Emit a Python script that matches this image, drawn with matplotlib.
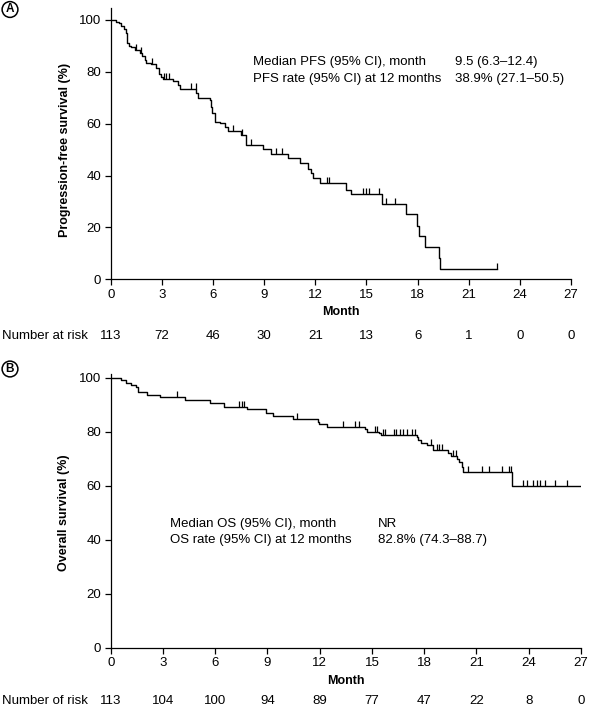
import matplotlib
matplotlib.use('Agg')
import matplotlib.pyplot as plt
import matplotlib.transforms as mtransforms
import numpy as np

plt.rcParams['font.family'] = ['Liberation Sans', 'DejaVu Sans']

# Panel A: progression-free survival (months, %)
pfs_time = [0, 0.33, 0.49, 0.63, 0.76, 0.88, 0.95, 1.05, 1.21, 1.41, 1.70, 1.86, 1.99, 2.09,
            2.39, 2.68, 2.83, 2.97, 3.07, 3.65, 3.95, 4.05, 5.03, 5.12, 5.81, 5.87, 5.96,
            6.10, 6.39, 6.69, 6.88, 7.67, 7.96, 8.93, 9.43, 10.40, 11.09, 11.57, 11.77,
            11.87, 12.30, 13.78, 14.08, 15.94, 17.34, 17.96, 18.06, 18.42, 19.26, 19.34]
pfs_surv = [100, 99.3, 98.7, 97.7, 96.4, 94.8, 91.0, 90.0, 89.5, 88.4, 87.4, 86.1, 84.6, 83.5,
            83.0, 81.4, 79.2, 77.9, 77.1, 76.6, 74.9, 73.2, 71.9, 70.0, 69.1, 66.5, 64.0,
            60.7, 60.1, 58.8, 57.3, 55.6, 51.9, 50.2, 48.5, 46.6, 44.7, 42.7, 40.8,
            38.9, 37.0, 34.6, 32.7, 29.2, 25.1, 20.5, 16.7, 12.5, 8.4, 4.1]
pfs_end = 22.68
pfs_censor = [1.5, 1.8, 2.4, 3.1, 3.25, 3.4, 4.7, 5.0, 7.2, 7.7, 8.25, 9.72, 10.07,
              12.71, 12.8, 14.8, 14.96, 15.15, 15.74, 16.13, 16.66, 22.68]
pfs_risk = [113, 72, 46, 30, 21, 13, 6, 1, 0, 0]

# Panel B: overall survival (months, %)
os_time = [0, 0.57, 0.88, 1.15, 1.45, 1.58, 2.07, 2.83, 4.27, 5.70, 6.50, 7.81, 8.90, 9.33,
           10.45, 11.90, 11.97, 12.42, 14.60, 14.70, 15.42, 15.50, 17.57, 17.66, 17.80,
           18.14, 18.52, 19.38, 19.52, 19.90, 20.01, 20.15, 20.24, 23.05]
os_surv = [100, 99.1, 98.2, 97.3, 96.5, 94.7, 93.8, 92.9, 91.7, 90.5, 89.3, 88.3, 87.1, 85.9,
           84.6, 83.7, 82.8, 81.9, 80.9, 80.0, 79.4, 78.8, 78.2, 76.9, 75.9,
           75.1, 73.2, 72.2, 71.0, 69.9, 68.9, 66.8, 65.2, 59.9]
os_end = 27.0
os_censor = [3.79, 7.38, 7.52, 7.65, 10.68, 13.35, 14.02, 14.27, 15.17, 15.3, 15.65, 15.75,
             16.26, 16.38, 16.61, 16.8, 17.03, 17.28, 17.47, 18.37, 18.71, 18.86, 19.0,
             19.65, 19.82, 20.53, 21.3, 21.72, 22.45, 22.88, 23.0, 23.65, 23.88, 24.26,
             24.45, 24.64, 24.93, 25.5, 26.18]
os_risk = [113, 104, 100, 94, 89, 77, 47, 22, 8, 0]

months = [0, 3, 6, 9, 12, 15, 18, 21, 24, 27]

FS = 9.5
W, H = 589, 709


def surv_at(times, surv, t):
    idx = np.searchsorted(times, t, side='right') - 1
    return np.asarray(surv)[idx]


def px(x, y):
    # pixel position (from top-left) -> figure fraction
    return x / W, 1 - y / H


def km_panel(ax, times, surv, end, censor, risk, ylab, ytop, risk_label, risk_y, ylab_y):
    t = list(times) + [end]
    s = list(surv) + [surv[-1]]
    ax.step(t, s, where='post', color='black', lw=1.0)
    ax.plot(censor, surv_at(times, surv, censor), linestyle='none', marker=2,
            markersize=4, markeredgewidth=0.9, color='black')
    ax.set_xlim(0, 27)
    ax.set_ylim(0, ytop)
    ax.set_xticks(months)
    ax.set_yticks([0, 20, 40, 60, 80, 100])
    for side in ['top', 'right']:
        ax.spines[side].set_visible(False)
    for side in ['left', 'bottom']:
        ax.spines[side].set_linewidth(0.9)
    ax.tick_params(direction='out', length=4, width=0.9, labelsize=FS, pad=3)
    ax.set_ylabel(ylab, fontsize=9, fontweight='bold', va='center')
    ax.yaxis.set_label_coords(-0.10, ylab_y)
    ax.set_xlabel('Month', fontsize=9, fontweight='bold', va='center')
    ax.xaxis.set_label_coords(0.5, -0.122)
    tr = mtransforms.blended_transform_factory(ax.transData, ax.transAxes)
    for m, n in zip(months, risk):
        ax.text(m, risk_y, str(n), transform=tr, ha='center', va='center', fontsize=FS)
    ax.text(2 / W, risk_y, risk_label, transform=mtransforms.blended_transform_factory(
        ax.figure.transFigure, ax.transAxes), ha='left', va='center', fontsize=FS)


fig = plt.figure(figsize=(5.89, 7.09), dpi=100)

# panel A
axA = fig.add_axes([110.7 / W, 1 - 279.3 / H, 460.3 / W, 271.0 / H])
km_panel(axA, pfs_time, pfs_surv, pfs_end, pfs_censor, pfs_risk,
         'Progression-free survival (%)', 104.5, 'Number at risk', -0.209, 0.477)

# panel B
axB = fig.add_axes([110.7 / W, 1 - 647.7 / H, 470.3 / W, 273.4 / H])
km_panel(axB, os_time, os_surv, os_end, os_censor, os_risk,
         'Overall survival (%)', 101.3, 'Number of risk', -0.195, 0.493)

notes = [(253, 62, 'Median PFS (95% CI), month'),
         (253, 79, 'PFS rate (95% CI) at 12 months'),
         (455, 62, '9.5 (6.3\u201312.4)'),
         (455, 79, '38.9% (27.1\u201350.5)'),
         (170, 524, 'Median OS (95% CI), month'),
         (170, 540, 'OS rate (95% CI) at 12 months'),
         (378, 524, 'NR'),
         (378, 540, '82.8% (74.3\u201388.7)')]
for x, y, s in notes:
    fig.text(*px(x, y), s, fontsize=FS, ha='left', va='center')

for x, y, s in [(10, 9.5, 'A'), (10, 369, 'B')]:
    fig.text(*px(x, y), s, fontsize=8.5, fontweight='bold', ha='center', va='center',
             bbox=dict(boxstyle='circle,pad=0.16', fc='white', ec='black', lw=1.1))

fig.savefig('out.png', dpi=100)
